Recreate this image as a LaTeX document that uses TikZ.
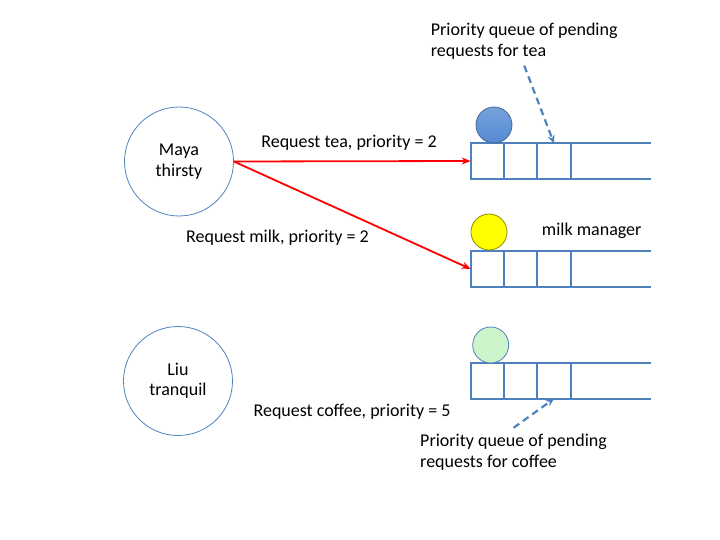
\documentclass[tikz,border=0pt]{standalone}
\usepackage{fontspec}
\setmainfont{Carlito}
\usepackage{tikz}
\usetikzlibrary{arrows.meta,positioning}
\definecolor{qblue}{RGB}{79,129,189}
\definecolor{tokblue}{RGB}{85,138,210}
\definecolor{tokgreen}{RGB}{204,245,204}
\definecolor{tokyellow}{RGB}{255,255,0}

\tikzset{
  agent/.style={circle,draw=qblue,line width=0.8pt,minimum size=109pt,inner sep=0pt,
    align=center,font=\fontsize{18}{20.5}\selectfont},
  cell/.style={draw=qblue,line width=1.8pt,minimum width=33.3pt,minimum height=35.5pt,
    inner sep=0pt,outer sep=0pt,anchor=west},
  qline/.style={draw=qblue,line width=1.8pt},
  token/.style={circle,minimum size=36pt,inner sep=0pt,line width=0.8pt},
  req/.style={red,line width=1.8pt,-{Stealth[length=9pt,width=7pt]}},
  hint/.style={qblue,line width=2.2pt,dash pattern=on 7pt off 4.5pt,-{Stealth[length=8pt,width=7pt]}},
  lbl/.style={font=\fontsize{18}{21}\selectfont,inner sep=0pt}
}

\begin{document}
\begin{tikzpicture}[x=1pt,y=-1pt]
\useasboundingbox (0,0) rectangle (720,540);

% the two drinkers
\node[agent] (maya) at (179,161.5) {Maya\\thirsty};
\node[agent] (liu) at (178,381) {Liu\\tranquil};

% one queue per drink manager
\foreach \q/\y in {tea/161,milk/269,coffee/381}{
  \node[cell] (\q1) at (470.7,\y) {};
  \node[cell] (\q2) at (\q1.east) {};
  \node[cell] (\q3) at (\q2.east) {};
  \draw[qline] (\q3.north east) -- ++(80,0);
  \draw[qline] (\q3.south east) -- ++(80,0);
}

% tokens held by the managers
\node[token,draw=qblue!80!black,top color=tokblue!80!white,bottom color=tokblue] (teatok) at (494,125) {};
\node[token,draw=black!45!tokyellow,fill=tokyellow] (milktok) at (489,232) {};
\node[token,draw=qblue,fill=tokgreen] (coffeetok) at (490.7,345) {};

% requests
\draw[req] (maya.east) -- (tea1.west);
\draw[req] (maya.east) -- (milk1.west);
\node[lbl] (teareq) at (349,143) {Request tea, priority = 2};
\node[lbl] (milkreq) at (277.5,238) {Request milk, priority = 2};
\node[lbl] (coffeereq) at (352,412) {Request coffee, priority = 5};
\node[lbl] (milkmgr) at (591.7,231) {milk manager};

% notes on the queues
\node[lbl,align=left,anchor=west] (teanote) at (430.7,41.2)
  {Priority queue of pending\\requests for tea};
\node[lbl,align=left,anchor=west] (coffeenote) at (420,452.2)
  {Priority queue of pending\\requests for coffee};
\draw[hint] ([yshift=-6pt]teanote.south) -- (tea3.north);
\draw[hint] ([yshift=6pt]coffeenote.north) -- (coffee3.south);
\end{tikzpicture}
\end{document}
